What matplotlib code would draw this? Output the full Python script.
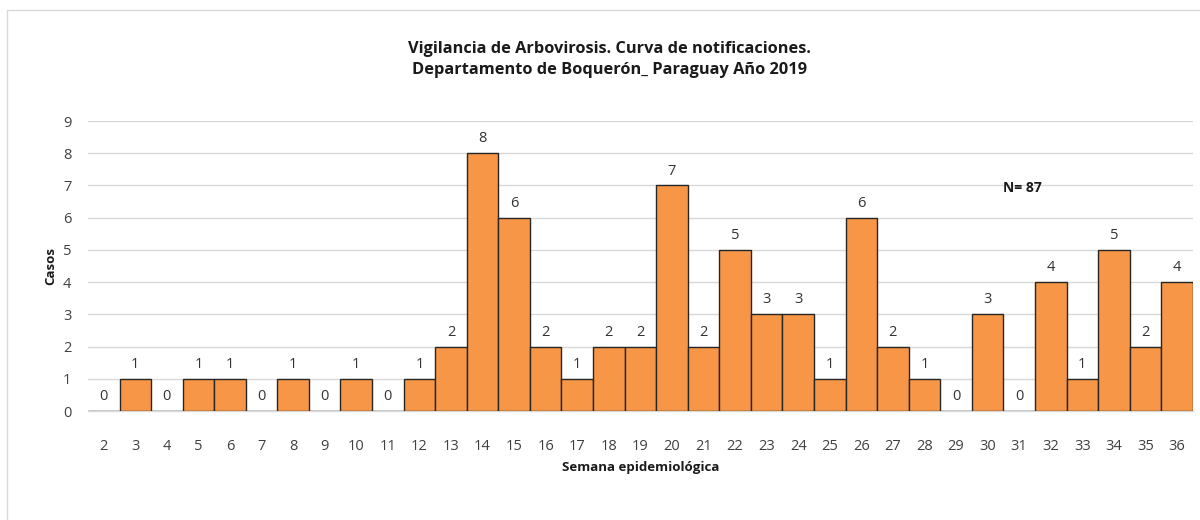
import numpy as np
import matplotlib
matplotlib.use("Agg")
import matplotlib.pyplot as plt
from matplotlib.patches import Rectangle

plt.rcParams["font.family"] = ["Open Sans", "DejaVu Sans"]

# Semana epidemiológica y casos notificados
semanas = list(range(2, 37))
casos = [0, 1, 0, 1, 1, 0, 1, 0, 1, 0, 1, 2, 8, 6, 2, 1, 2, 2, 7, 2,
         5, 3, 3, 1, 6, 2, 1, 0, 3, 0, 4, 1, 5, 2, 4]

TITLE = ("Vigilancia de Arbovirosis. Curva de notificaciones.\n"
         "Departamento de Boquerón_ Paraguay Año 2019")
N_TEXT = "N= 87"

BAR_COLOR = "#F79646"
EDGE = "#262626"
TICK_COLOR = "#404040"
GRID = "#D9D9D9"


def main():
    fig = plt.figure(figsize=(12.0, 5.2), dpi=100)
    ax = fig.add_axes([0.0733, 0.2096, 0.9207, 0.5577])

    x = np.arange(len(semanas))
    ax.bar(x, casos, width=1.0, color=BAR_COLOR, edgecolor=EDGE,
           linewidth=1.0, zorder=3)
    for xi, v in zip(x, casos):
        ax.annotate(str(v), (xi, v), xytext=(0, 5), textcoords="offset points",
                    ha="center", va="bottom", fontsize=10.5, color="#333333",
                    zorder=4)

    ax.set_xlim(-0.5, len(semanas) - 0.5)
    ax.set_ylim(0, 9)
    ax.set_yticks(range(0, 10))
    ax.set_xticks(x)
    ax.set_xticklabels([str(s) for s in semanas])
    ax.tick_params(axis="x", length=0, pad=20, labelsize=10.5, labelcolor=TICK_COLOR)
    ax.tick_params(axis="y", length=0, pad=12, labelsize=10.5, labelcolor=TICK_COLOR)
    ax.yaxis.grid(True, color=GRID, linewidth=1.0, zorder=0)
    ax.set_axisbelow(True)
    for side in ("top", "right", "left"):
        ax.spines[side].set_visible(False)
    ax.spines["bottom"].set_color(GRID)
    ax.spines["bottom"].set_linewidth(1.0)

    ax.set_ylabel("Casos", fontsize=9.5, fontweight="bold", color="#1a1a1a",
                  labelpad=4)
    ax.set_xlabel("Semana epidemiológica", fontsize=9.5, fontweight="bold",
                  color="#1a1a1a", labelpad=5)

    ax.text(29.1, 6.92, N_TEXT, ha="center", va="center", fontsize=10,
            fontweight="bold", color="#1a1a1a")

    fig.text(0.508, 0.885, TITLE, ha="center", va="center", fontsize=11.8,
             fontweight="bold", color="#1a1a1a", linespacing=1.45)

    # chart-area border
    fig.patches.append(Rectangle((7 / 1200, -0.01), 1.2, 1 - 10 / 520 + 0.01,
                                 transform=fig.transFigure, fill=False,
                                 edgecolor="#D9D9D9", linewidth=1.0))

    fig.savefig("out.png", dpi=100)
    plt.close(fig)


if __name__ == "__main__":
    main()
